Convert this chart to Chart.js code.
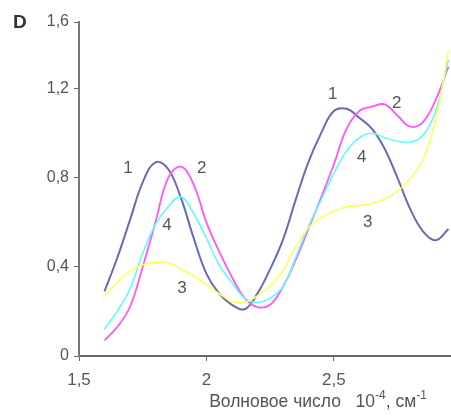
<!DOCTYPE html>
<html>
<head>
<meta charset="utf-8">
<script src="https://cdn.jsdelivr.net/npm/chart.js@4.4.1/dist/chart.umd.min.js"></script>
<style>
  html, body { margin: 0; padding: 0; background: #fff; }
  #wrap { width: 451px; height: 417px; position: relative; }
</style>
</head>
<body>
<div id="wrap"><canvas id="chart"></canvas></div>
<script>
// wavenumber, 10^-4 cm^-1
const xValues = [1.60, 1.65, 1.70, 1.75, 1.80, 1.85, 1.90, 1.95, 2.00, 2.05, 2.10, 2.15, 2.20, 2.25,
                 2.30, 2.35, 2.40, 2.45, 2.50, 2.55, 2.60, 2.65, 2.70, 2.75, 2.80, 2.85, 2.90, 2.95];
const curve1 = [0.29, 0.44, 0.61, 0.78, 0.87, 0.84, 0.71, 0.53, 0.37, 0.28, 0.23, 0.21, 0.28, 0.39,
                0.52, 0.70, 0.87, 1.00, 1.10, 1.11, 1.07, 1.02, 0.93, 0.80, 0.66, 0.56, 0.52, 0.57];
const curve2 = [0.07, 0.13, 0.22, 0.40, 0.60, 0.80, 0.85, 0.77, 0.60, 0.47, 0.355, 0.26, 0.22, 0.23,
                0.31, 0.43, 0.57, 0.71, 0.86, 1.02, 1.10, 1.12, 1.13, 1.08, 1.03, 1.05, 1.15, 1.30];
const curve3 = [0.27, 0.33, 0.38, 0.41, 0.42, 0.42, 0.39, 0.36, 0.32, 0.28, 0.245, 0.24, 0.27, 0.315,
                0.38, 0.49, 0.575, 0.62, 0.65, 0.67, 0.675, 0.685, 0.705, 0.74, 0.795, 0.88, 1.06, 1.37];
const curve4 = [0.12, 0.20, 0.30, 0.46, 0.59, 0.67, 0.715, 0.64, 0.53, 0.41, 0.33, 0.26, 0.24, 0.26,
                0.31, 0.44, 0.58, 0.70, 0.82, 0.92, 0.98, 1.00, 0.98, 0.965, 0.96, 0.99, 1.10, 1.33];

const xTickValues = [1.5, 2, 2.5];
const xTickLabels = ['1,5', '2', '2,5'];
const yTickValues = [0, 0.4, 0.8, 1.2, 1.5];
const yTickLabels = ['0', '0,4', '0,8', '1,2', '1,6'];

// curve numbers written next to the peaks
const curveNotes = [
    { text: '1', x: 1.692, y: 0.845 }, { text: '2', x: 1.982, y: 0.845 },
    { text: '4', x: 1.845, y: 0.589 }, { text: '3', x: 1.904, y: 0.306 },
    { text: '1', x: 2.496, y: 1.173 }, { text: '2', x: 2.747, y: 1.137 },
    { text: '4', x: 2.610, y: 0.894 }, { text: '3', x: 2.633, y: 0.602 }
];

const FONT = "'Liberation Sans', Arial, sans-serif";

function toPoints(ys) {
    return ys.map((y, i) => ({ x: xValues[i], y: y }));
}

function line(label, ys, color, width) {
    return {
        label: label, data: toPoints(ys),
        borderColor: color, backgroundColor: color,
        borderWidth: width, pointRadius: 0, fill: false,
        tension: 0.4
    };
}

const notesPlugin = {
    id: 'notes',
    afterDraw(chart) {
        const ctx = chart.ctx;
        const xs = chart.scales.x, ys = chart.scales.y;
        ctx.save();
        ctx.textAlign = 'center';
        ctx.textBaseline = 'middle';
        ctx.fillStyle = '#555';
        ctx.font = '17px ' + FONT;
        curveNotes.forEach(n => {
            ctx.fillText(n.text, xs.getPixelForValue(n.x), ys.getPixelForValue(n.y));
        });

        // panel letter
        ctx.fillStyle = '#333';
        ctx.font = 'bold 19px ' + FONT;
        ctx.textAlign = 'left';
        ctx.fillText('D', 13, 23);

        // axis title with superscripts
        const base = 407;
        ctx.fillStyle = '#555';
        ctx.textBaseline = 'alphabetic';
        const parts = [
            { t: 'Волновое число   10', sup: false },
            { t: '-4', sup: true },
            { t: ', см', sup: false },
            { t: '-1', sup: true }
        ];
        let total = 0;
        parts.forEach(p => {
            ctx.font = (p.sup ? '12px ' : '17.5px ') + FONT;
            p.w = ctx.measureText(p.t).width;
            total += p.w;
        });
        let x = 318 - total / 2;
        parts.forEach(p => {
            ctx.font = (p.sup ? '12px ' : '17.5px ') + FONT;
            ctx.fillText(p.t, x, p.sup ? base - 8 : base);
            x += p.w;
        });
        ctx.restore();
    }
};

new Chart(document.getElementById('chart'), {
    type: 'line',
    data: {
        datasets: [
            line('3', curve3, '#ffff55', 1.5),
            line('4', curve4, '#55ffff', 1.5),
            line('2', curve2, '#ff55ff', 1.8),
            line('1', curve1, '#6a6ab4', 2)
        ]
    },
    options: {
        responsive: true, maintainAspectRatio: false,
        animation: false,
        layout: { padding: { top: 22, right: 0, left: 0, bottom: 0 } },
        plugins: { legend: { display: false }, tooltip: { enabled: false } },
        scales: {
            x: {
                type: 'linear', min: 1.5, max: 2.96,
                afterBuildTicks: s => { s.ticks = xTickValues.map(v => ({ value: v })); },
                afterFit: s => { s.height = 61; },
                grid: { drawOnChartArea: false, drawTicks: true, tickLength: 5, color: '#666', lineWidth: 1 },
                border: { color: '#666', width: 2 },
                ticks: {
                    color: '#555', padding: 9, maxRotation: 0,
                    font: { family: FONT, size: 17 },
                    callback: (v, i) => xTickLabels[i]
                }
            },
            y: {
                type: 'linear', min: 0, max: 1.5,
                afterBuildTicks: s => { s.ticks = yTickValues.map(v => ({ value: v })); },
                afterFit: s => { s.width = 79; },
                grid: { drawOnChartArea: false, drawTicks: true, tickLength: 5, color: '#666', lineWidth: 1 },
                border: { color: '#777', width: 2 },
                ticks: {
                    color: '#555', padding: 5,
                    font: { family: FONT, size: 16 },
                    callback: (v, i) => yTickLabels[i]
                }
            }
        }
    },
    plugins: [notesPlugin]
});
</script>
</body>
</html>
